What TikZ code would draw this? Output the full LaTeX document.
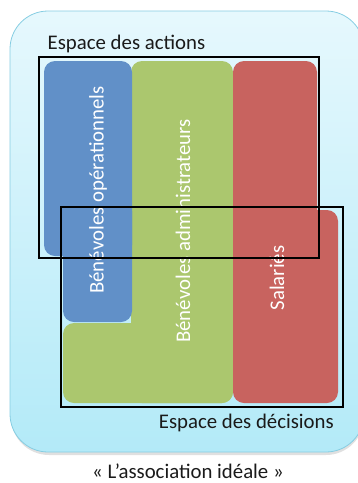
\documentclass[tikz,border=0pt]{standalone}
\usepackage{fontspec}
\setmainfont{Carlito}
\definecolor{bgtop}{HTML}{E6F8FD}
\definecolor{bgbot}{HTML}{B3EAF8}
\definecolor{bgline}{HTML}{86CDE2}
\definecolor{cblue}{HTML}{6190C8}
\definecolor{cgreen}{HTML}{ABC76E}
\definecolor{cred}{HTML}{C8635F}
\definecolor{ctext}{HTML}{1A1A1A}
\tikzset{
  bgbox/.style={draw=bgline, line width=0.8pt, rounded corners=38pt, top color=bgtop, bottom color=bgbot},
  shadowbox/.style={fill=black!35, opacity=0.35, rounded corners=38pt},
  colbox/.style={draw=none, rounded corners=11pt},
  frame/.style={draw=black, line width=2pt},
  coltext/.style={text=white, font=\fontsize{20.8}{22}\selectfont, rotate=90, inner sep=0pt},
  label/.style={text=ctext, font=\fontsize{20.8}{22}\selectfont, inner sep=0pt},
}
\begin{document}
\begin{tikzpicture}[x=1pt,y=-1pt]
\useasboundingbox (0,0) rectangle (357,483);
% background panel
\fill[shadowbox] (11,14) rectangle (364,455);
\path[bgbox] (10,11) rectangle (364,452);
% green
\fill[cgreen, colbox] (131,61) rectangle (233,403);
\fill[cgreen, colbox] (63,323) rectangle (233,403);
% blue
\fill[cblue, colbox] (44,61) rectangle (132,256);
\fill[cblue, colbox] (63,200) rectangle (132,322);
% red
\fill[cred, colbox] (233,61) rectangle (317,262);
\fill[cred, colbox] (233,210) rectangle (338,403);
% column labels
\node[coltext] (tb) at (98,190) {Bénévoles opérationnels};
\node[coltext] (tg) at (183,231) {Bénévoles administrateurs};
\node[coltext] (tr) at (277,278) {Salariés};
% frames
\draw[frame] (38.5,57) rectangle (319,258);
\draw[frame] (61,207) rectangle (342.5,407);
% labels
\node[label, anchor=base west] (la) at (47.5,49.5) {Espace des actions};
\node[label, anchor=base east] (ld) at (334,428.5) {Espace des décisions};
\node[label, anchor=base] (cap) at (188,478.5) {« L’association idéale »};
\end{tikzpicture}
\end{document}
